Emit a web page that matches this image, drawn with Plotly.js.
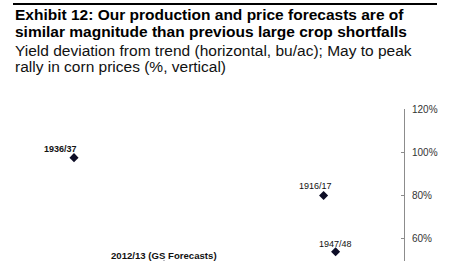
<!DOCTYPE html>
<html>
<head>
<meta charset="utf-8">
<script src="https://cdn.plot.ly/plotly-3.0.1.min.js"></script>
<style>
html,body{margin:0;padding:0;background:#fff;overflow:hidden;}
#chart{width:450px;height:303px;}
</style>
</head>
<body>
<div id="chart"></div>
<script>
// ---- data ----
const seasons = ['1916/17', '1936/37', '1947/48', '2012/13 (GS Forecasts)'];
const yieldDeviation = [-6.7, -27.5, -5.7, -20];   // bu/ac (horizontal)
const priceRally = [80, 97.5, 54, 48];            // % May-to-peak (vertical)
const yTickVals = [60, 80, 100, 120];
const yTickText = ['60%', '80%', '100%', '120%'];

const titleLines = [
  {text: '<b>Exhibit 12: Our production and price forecasts are of</b>', bold: true},
  {text: '<b>similar magnitude than previous large crop shortfalls</b>', bold: true},
  {text: 'Yield deviation from trend (horizontal, bu/ac); May to peak', bold: false},
  {text: 'rally in corn prices (%, vertical)', bold: false}
];

// ---- style (not data) ----
const W = 450, H = 303;
const M = {l: 4, r: 46, t: 109, b: 21};
const plotH = H - M.t - M.b;
const plotW = W - M.l - M.r;
const pxToPaperY = p => 1 + (M.t - p) / plotH;
const pxToPaperX = p => (p - M.l) / plotW;
const titleCenters = [15, 32, 50, 66];
const labelShiftX = [-8, -14, 0, 0];
const labelShiftY = [10, 9, 8, 9];
const labelBold = [false, true, false, true];
const labelSize = [9, 9, 9, 9.6];

const annotations = [];
titleLines.forEach((ln, i) => {
  annotations.push({
    xref: 'paper', yref: 'paper',
    x: pxToPaperX(13), y: pxToPaperY(titleCenters[i]),
    xanchor: 'left', yanchor: 'middle',
    text: ln.text, showarrow: false,
    font: {family: 'Liberation Sans, Arial, sans-serif', size: 15.5, color: ln.bold ? '#000' : '#111'}
  });
});
seasons.forEach((s, i) => {
  annotations.push({
    xref: 'x', yref: 'y',
    x: yieldDeviation[i], y: priceRally[i],
    xanchor: 'center', yanchor: 'middle',
    xshift: labelShiftX[i], yshift: labelShiftY[i],
    text: labelBold[i] ? '<b>' + s + '</b>' : s,
    showarrow: false,
    font: {family: 'Liberation Sans, Arial, sans-serif', size: labelSize[i], color: '#111'}
  });
});

const trace = {
  type: 'scatter', mode: 'markers',
  x: yieldDeviation, y: priceRally,
  marker: {symbol: 'diamond', size: 7, color: '#0d0d26'},
  cliponaxis: false,
  hoverinfo: 'skip'
};

const layout = {
  width: W, height: H,
  margin: M,
  paper_bgcolor: '#fff', plot_bgcolor: '#fff',
  showlegend: false,
  xaxis: {
    range: [-(plotW / 12), 0],
    visible: false, showgrid: false, zeroline: false, fixedrange: true
  },
  yaxis: {
    range: [40, 120],
    side: 'right',
    showline: true, linecolor: '#8c8c8c', linewidth: 1,
    ticks: 'inside', ticklen: 3, tickcolor: '#8c8c8c', tickwidth: 1,
    tickvals: yTickVals, ticktext: yTickText,
    tickfont: {family: 'Liberation Sans, Arial, sans-serif', size: 10, color: '#333'},
    showgrid: false, zeroline: false, fixedrange: true,
    ticklabelstandoff: 5
  },
  shapes: [{
    type: 'line', xref: 'paper', yref: 'paper',
    x0: pxToPaperX(13), x1: pxToPaperX(437),
    y0: pxToPaperY(4), y1: pxToPaperY(4),
    line: {color: '#000', width: 2}
  }],
  annotations: annotations
};

Plotly.newPlot('chart', [trace], layout, {staticPlot: true, displayModeBar: false});
</script>
</body>
</html>
